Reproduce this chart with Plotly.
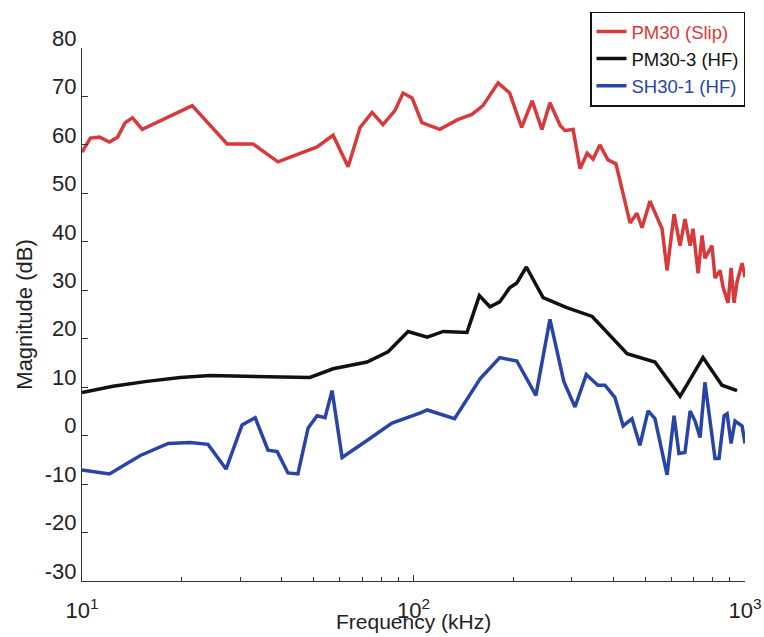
import plotly.graph_objects as go

# Frequency (kHz) and magnitude (dB) for each measurement
freq_pm30 = [10.0, 10.6, 11.3, 12.1, 12.8, 13.5, 14.2, 15.2, 21.5, 27.4, 32.8, 39.0,
             51.2, 57.2, 63.5, 69.0, 75.0, 80.9, 87.9, 93.0, 99.0, 106, 120, 136,
             150, 162, 180, 195, 212, 228, 244, 258, 277, 286, 303, 318, 334, 348,
             365, 386, 408, 450, 472, 489, 517, 562, 582, 611, 637, 659, 683, 697,
             722, 742, 757, 795, 812, 841, 858, 889, 908, 927, 946, 980, 1000]
mag_pm30 = [58.5, 61.4, 61.6, 60.6, 61.6, 64.6, 65.6, 63.2, 68.1, 60.2, 60.2, 56.5,
            59.6, 62.0, 55.5, 63.6, 66.7, 64.2, 67.1, 70.7, 69.7, 64.6, 63.2, 65.2,
            66.3, 68.1, 72.8, 70.7, 63.6, 69.1, 63.2, 68.7, 64.0, 63.0, 63.2, 55.1,
            58.3, 57.1, 60.0, 56.9, 56.1, 43.9, 45.9, 42.9, 48.4, 42.7, 34.1, 45.7,
            39.2, 44.7, 39.2, 42.7, 33.5, 41.3, 36.6, 39.2, 32.5, 34.1, 30.7, 27.4,
            34.6, 27.4, 31.7, 35.6, 32.7]

freq_pm30_3 = [10.0, 12.4, 15.7, 19.8, 24.3, 39.6, 48.7, 57.2, 72.4, 83.8, 96.3, 110,
               123, 145, 158, 170, 182, 195, 205, 219, 246, 290, 346, 441, 535, 637,
               747, 852, 946]
mag_pm30_3 = [8.9, 10.2, 11.2, 12.0, 12.4, 12.0, 12.0, 13.8, 15.2, 17.3, 21.5, 20.3,
              21.5, 21.3, 28.9, 26.6, 27.6, 30.5, 31.5, 34.8, 28.5, 26.4, 24.6, 16.9,
              15.2, 8.1, 16.1, 10.4, 9.3]

freq_sh30_1 = [10.0, 12.1, 15.0, 18.2, 21.2, 24.0, 27.2, 30.4, 33.3, 36.4, 38.8, 41.8,
               44.8, 48.1, 51.2, 54.1, 56.8, 60.9, 72.4, 86.1, 105, 110, 133, 159, 182,
               205, 234, 258, 284, 307, 332, 360, 378, 405, 429, 456, 482, 510, 535,
               582, 611, 632, 659, 683, 707, 732, 757, 812, 835, 865, 883, 908, 933,
               980, 1000]
mag_sh30_1 = [-7.1, -7.9, -4.1, -1.6, -1.4, -1.8, -6.9, 2.2, 3.7, -3.0, -3.3, -7.7,
              -7.9, 1.6, 4.1, 3.7, 9.3, -4.5, -1.0, 2.6, 4.7, 5.3, 3.5, 11.8, 16.1,
              15.4, 8.3, 24.0, 11.2, 5.9, 12.6, 10.4, 10.4, 7.9, 2.0, 3.5, -2.0, 5.1,
              3.5, -8.1, 4.1, -3.7, -3.5, 5.1, 3.0, -0.4, 11.0, -4.7, -4.7, 4.1, 4.5,
              -1.6, 3.0, 2.0, -1.6]

series_names = ["PM30 (Slip)", "PM30-3 (HF)", "SH30-1 (HF)"]
series_colors = ["#d8393a", "#111111", "#2744a6"]

y_ticks = [-30, -20, -10, 0, 10, 20, 30, 40, 50, 60, 70, 80]
y_tick_text = ["-30", "-20", "-10", "0", "10", "20", "30", "40", "50", "60", "70", "80"]
x_major = [10, 100, 1000]
x_major_text = ["10<sup>1</sup>", "10<sup>2</sup>", "10<sup>3</sup>"]
x_minor = [20, 30, 40, 50, 60, 70, 80, 90, 200, 300, 400, 500, 600, 700, 800, 900]

FONT = "Liberation Sans, Arial, sans-serif"
TXT = "#222222"

fig = go.Figure()
for fx, my, name, col in zip([freq_pm30, freq_pm30_3, freq_sh30_1],
                             [mag_pm30, mag_pm30_3, mag_sh30_1],
                             series_names, series_colors):
    fig.add_trace(go.Scatter(
        x=fx, y=my, mode="lines",
        name=f'<span style="color:{col}">{name}</span>',
        line=dict(color=col, width=3.5),
    ))

axis_col = "#333333"
fig.update_layout(
    width=764, height=637,
    margin=dict(l=82, r=19, t=40, b=56),
    paper_bgcolor="white", plot_bgcolor="white",
    font=dict(family=FONT, color=TXT),
    showlegend=True,
    legend=dict(
        x=(590 - 82) / 663, y=(581 - 3) / 541, xanchor="left", yanchor="top",
        bgcolor="white", bordercolor="#111111", borderwidth=1.5,
        font=dict(family=FONT, size=18.5), tracegroupgap=0, itemwidth=30,
    ),
    xaxis=dict(
        type="log", range=[1, 3],
        tickvals=x_major, ticktext=x_major_text,
        ticks="inside", ticklen=6, tickcolor=axis_col,
        ticklabelstandoff=10,
        minor=dict(tickvals=x_minor, ticks="inside", ticklen=4, tickcolor=axis_col),
        showline=True, linecolor=axis_col, linewidth=1,
        showgrid=False, zeroline=False,
        tickfont=dict(size=22, family=FONT, color=TXT),
        automargin=False,
    ),
    yaxis=dict(
        range=[-30, 80], tickvals=y_ticks, ticktext=y_tick_text,
        ticks="inside", ticklen=6, tickcolor=axis_col,
        ticklabelshift=-10,
        showline=True, linecolor=axis_col, linewidth=1,
        showgrid=False, zeroline=False,
        tickfont=dict(size=22, family=FONT, color=TXT),
        title=dict(text="Magnitude (dB)", font=dict(size=22, family=FONT), standoff=6),
        automargin=False,
    ),
    annotations=[dict(
        text="Frequency (kHz)", xref="paper", yref="paper",
        x=0.5, y=(581 - 622) / 541, xanchor="center", yanchor="middle",
        showarrow=False, font=dict(size=21, family=FONT, color=TXT),
    )],
)

fig.write_html("out.html")
